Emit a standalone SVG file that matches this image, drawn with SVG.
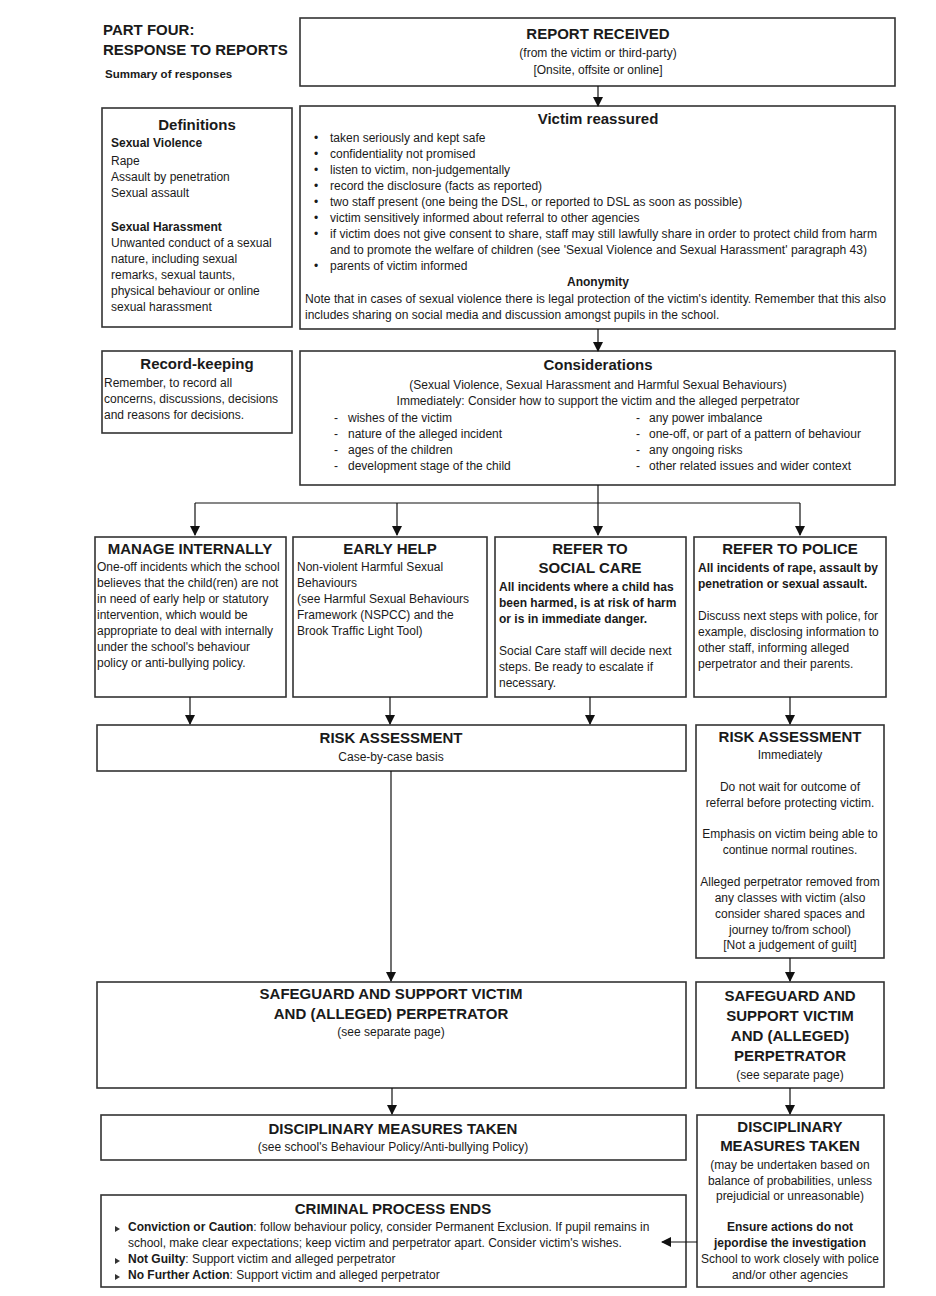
<svg xmlns="http://www.w3.org/2000/svg" width="936" height="1296" viewBox="0 0 936 1296">
<style>
text{font-family:"Liberation Sans",Arial,sans-serif;fill:#1a1a1a}
.box{fill:#fff;stroke:#333;stroke-width:1.6}
.t{font-weight:bold;font-size:15px;text-anchor:middle}
.h{font-weight:bold;font-size:15px}
.b{font-size:12px}
.s{font-size:12px}
.c{text-anchor:middle}
.bd{font-weight:bold}
.con{stroke:#111;stroke-width:1.2;fill:none}
</style>
<defs>
<marker id="ah" markerUnits="userSpaceOnUse" markerWidth="10" markerHeight="12" refX="9" refY="5" orient="auto">
<path d="M0,0 L10,5 L0,10 z" fill="#111"/>
</marker>
</defs>
<rect width="936" height="1296" fill="#fff"/>

<g id="header">
<text x="103" y="35" class="h">PART FOUR:</text>
<text x="103" y="55" class="h">RESPONSE TO REPORTS</text>
<text x="105" y="78" class="bd" style="font-size:11.5px">Summary of responses</text>
</g>

<g id="report">
<rect class="box" x="300" y="18" width="595" height="68"/>
<text x="598" y="39" class="t">REPORT RECEIVED</text>
<text x="598" y="57" class="b c">(from the victim or third-party)</text>
<text x="598" y="74" class="b c">[Onsite, offsite or online]</text>
</g>

<g id="definitions">
<rect class="box" x="102" y="108" width="190" height="219"/>
<text x="197" y="130" class="t">Definitions</text>
<text x="111" y="147" class="b bd">Sexual Violence</text>
<text x="111" y="165" class="b">Rape</text>
<text x="111" y="181" class="b">Assault by penetration</text>
<text x="111" y="197" class="b">Sexual assault</text>
<text x="111" y="231" class="b bd">Sexual Harassment</text>
<text x="111" y="247" class="b">Unwanted conduct of a sexual</text>
<text x="111" y="263" class="b">nature, including sexual</text>
<text x="111" y="279" class="b">remarks, sexual taunts,</text>
<text x="111" y="295" class="b">physical behaviour or online</text>
<text x="111" y="311" class="b">sexual harassment</text>
</g>

<g id="victim">
<rect class="box" x="300" y="106" width="595" height="223"/>
<text x="598" y="124" class="t">Victim reassured</text>
<g class="s">
<text x="314" y="142">•</text><text x="330" y="142">taken seriously and kept safe</text>
<text x="314" y="158">•</text><text x="330" y="158">confidentiality not promised</text>
<text x="314" y="174">•</text><text x="330" y="174">listen to victim, non-judgementally</text>
<text x="314" y="190">•</text><text x="330" y="190">record the disclosure (facts as reported)</text>
<text x="314" y="206">•</text><text x="330" y="206">two staff present (one being the DSL, or reported to DSL as soon as possible)</text>
<text x="314" y="222">•</text><text x="330" y="222">victim sensitively informed about referral to other agencies</text>
<text x="314" y="238">•</text><text x="330" y="238" textLength="547" lengthAdjust="spacingAndGlyphs">if victim does not give consent to share, staff may still lawfully share in order to protect child from harm</text>
<text x="330" y="254" textLength="537" lengthAdjust="spacingAndGlyphs">and to promote the welfare of children (see 'Sexual Violence and Sexual Harassment' paragraph 43)</text>
<text x="314" y="270">•</text><text x="330" y="270">parents of victim informed</text>
</g>
<text x="598" y="286" class="c bd" style="font-size:12px">Anonymity</text>
<text x="305" y="303" class="s" textLength="581" lengthAdjust="spacingAndGlyphs">Note that in cases of sexual violence there is legal protection of the victim's identity. Remember that this also</text>
<text x="305" y="319" class="s">includes sharing on social media and discussion amongst pupils in the school.</text>
</g>

<g id="recordkeeping">
<rect class="box" x="102" y="351" width="190" height="82"/>
<text x="197" y="369" class="t">Record-keeping</text>
<text x="104" y="387" class="b">Remember, to record all</text>
<text x="104" y="403" class="b">concerns, discussions, decisions</text>
<text x="104" y="419" class="b">and reasons for decisions.</text>
</g>

<g id="considerations">
<rect class="box" x="300" y="351" width="595" height="134"/>
<text x="598" y="370" class="t">Considerations</text>
<text x="598" y="389" class="b c">(Sexual Violence, Sexual Harassment and Harmful Sexual Behaviours)</text>
<text x="598" y="405" class="b c">Immediately: Consider how to support the victim and the alleged perpetrator</text>
<g class="s">
<text x="334" y="422">-</text><text x="348" y="422">wishes of the victim</text>
<text x="334" y="438">-</text><text x="348" y="438">nature of the alleged incident</text>
<text x="334" y="454">-</text><text x="348" y="454">ages of the children</text>
<text x="334" y="470">-</text><text x="348" y="470">development stage of the child</text>
<text x="636" y="422">-</text><text x="649" y="422">any power imbalance</text>
<text x="636" y="438">-</text><text x="649" y="438">one-off, or part of a pattern of behaviour</text>
<text x="636" y="454">-</text><text x="649" y="454">any ongoing risks</text>
<text x="636" y="470">-</text><text x="649" y="470">other related issues and wider context</text>
</g>
</g>

<g id="manage">
<rect class="box" x="95" y="537" width="191" height="160"/>
<text x="190" y="554" class="t">MANAGE INTERNALLY</text>
<g class="b">
<text x="97" y="571">One-off incidents which the school</text>
<text x="97" y="587">believes that the child(ren) are not</text>
<text x="97" y="603">in need of early help or statutory</text>
<text x="97" y="619">intervention, which would be</text>
<text x="97" y="635">appropriate to deal with internally</text>
<text x="97" y="651">under the school's behaviour</text>
<text x="97" y="667">policy or anti-bullying policy.</text>
</g>
</g>

<g id="earlyhelp">
<rect class="box" x="293" y="537" width="194" height="160"/>
<text x="390" y="554" class="t">EARLY HELP</text>
<g class="b">
<text x="297" y="571">Non-violent Harmful Sexual</text>
<text x="297" y="587">Behaviours</text>
<text x="297" y="603">(see Harmful Sexual Behaviours</text>
<text x="297" y="619">Framework (NSPCC) and the</text>
<text x="297" y="635">Brook Traffic Light Tool)</text>
</g>
</g>

<g id="socialcare">
<rect class="box" x="495" y="537" width="191" height="160"/>
<text x="590" y="554" class="t">REFER TO</text>
<text x="590" y="573" class="t">SOCIAL CARE</text>
<g class="b">
<text x="499" y="591" class="bd">All incidents where a child has</text>
<text x="499" y="607" class="bd">been harmed, is at risk of harm</text>
<text x="499" y="623" class="bd">or is in immediate danger.</text>
<text x="499" y="655">Social Care staff will decide next</text>
<text x="499" y="671">steps. Be ready to escalate if</text>
<text x="499" y="687">necessary.</text>
</g>
</g>

<g id="police">
<rect class="box" x="694" y="537" width="192" height="160"/>
<text x="790" y="554" class="t">REFER TO POLICE</text>
<g class="b">
<text x="698" y="572" class="bd">All incidents of rape, assault by</text>
<text x="698" y="588" class="bd">penetration or sexual assault.</text>
<text x="698" y="620">Discuss next steps with police, for</text>
<text x="698" y="636">example, disclosing information to</text>
<text x="698" y="652">other staff, informing alleged</text>
<text x="698" y="668">perpetrator and their parents.</text>
</g>
</g>

<g id="risk-left">
<rect class="box" x="97" y="725" width="589" height="46"/>
<text x="391" y="743" class="t">RISK ASSESSMENT</text>
<text x="391" y="761" class="b c">Case-by-case basis</text>
</g>

<g id="risk-right">
<rect class="box" x="696" y="725" width="188" height="233"/>
<text x="790" y="742" class="t">RISK ASSESSMENT</text>
<g class="b c">
<text x="790" y="759">Immediately</text>
<text x="790" y="791">Do not wait for outcome of</text>
<text x="790" y="807">referral before protecting victim.</text>
<text x="790" y="838">Emphasis on victim being able to</text>
<text x="790" y="854">continue normal routines.</text>
<text x="790" y="886">Alleged perpetrator removed from</text>
<text x="790" y="902">any classes with victim (also</text>
<text x="790" y="918">consider shared spaces and</text>
<text x="790" y="934">journey to/from school)</text>
<text x="790" y="949">[Not a judgement of guilt]</text>
</g>
</g>

<g id="safeguard-left">
<rect class="box" x="97" y="982" width="589" height="106"/>
<text x="391" y="999" class="t">SAFEGUARD AND SUPPORT VICTIM</text>
<text x="391" y="1019" class="t">AND (ALLEGED) PERPETRATOR</text>
<text x="391" y="1036" class="b c">(see separate page)</text>
</g>

<g id="safeguard-right">
<rect class="box" x="696" y="982" width="188" height="106"/>
<text x="790" y="1001" class="t">SAFEGUARD AND</text>
<text x="790" y="1021" class="t">SUPPORT VICTIM</text>
<text x="790" y="1041" class="t">AND (ALLEGED)</text>
<text x="790" y="1061" class="t">PERPETRATOR</text>
<text x="790" y="1079" class="b c">(see separate page)</text>
</g>

<g id="disciplinary-left">
<rect class="box" x="101" y="1115" width="585" height="45"/>
<text x="393" y="1134" class="t">DISCIPLINARY MEASURES TAKEN</text>
<text x="393" y="1151" class="b c">(see school's Behaviour Policy/Anti-bullying Policy)</text>
</g>

<g id="disciplinary-right">
<rect class="box" x="697" y="1115" width="187" height="172"/>
<text x="790" y="1132" class="t">DISCIPLINARY</text>
<text x="790" y="1151" class="t">MEASURES TAKEN</text>
<g class="b c">
<text x="790" y="1169">(may be undertaken based on</text>
<text x="790" y="1185">balance of probabilities, unless</text>
<text x="790" y="1200">prejudicial or unreasonable)</text>
<text x="790" y="1231" class="bd">Ensure actions do not</text>
<text x="790" y="1247" class="bd">jepordise the investigation</text>
<text x="790" y="1263">School to work closely with police</text>
<text x="790" y="1279">and/or other agencies</text>
</g>
</g>

<g id="criminal">
<rect class="box" x="101" y="1195" width="585" height="92"/>
<text x="393" y="1214" class="t">CRIMINAL PROCESS ENDS</text>
<g class="b">
<path d="M115,1226 L120,1229 L115,1232 z" fill="#333"/>
<text x="128" y="1231"><tspan class="bd">Conviction or Caution</tspan>: follow behaviour policy, consider Permanent Exclusion. If pupil remains in</text>
<text x="128" y="1247">school, make clear expectations; keep victim and perpetrator apart. Consider victim's wishes.</text>
<path d="M115,1258 L120,1261 L115,1264 z" fill="#333"/>
<text x="128" y="1263"><tspan class="bd">Not Guilty</tspan>: Support victim and alleged perpetrator</text>
<path d="M115,1274 L120,1277 L115,1280 z" fill="#333"/>
<text x="128" y="1279"><tspan class="bd">No Further Action</tspan>: Support victim and alleged perpetrator</text>
</g>
</g>

<g id="connectors" class="con">
<line x1="598" y1="86" x2="598" y2="106" marker-end="url(#ah)"/>
<line x1="598" y1="329" x2="598" y2="351" marker-end="url(#ah)"/>
<polyline points="598,485 598,503"/>
<line x1="195" y1="503" x2="800" y2="503"/>
<line x1="195" y1="503" x2="195" y2="535" marker-end="url(#ah)"/>
<line x1="397" y1="503" x2="397" y2="535" marker-end="url(#ah)"/>
<line x1="598" y1="503" x2="598" y2="535" marker-end="url(#ah)"/>
<line x1="800" y1="503" x2="800" y2="535" marker-end="url(#ah)"/>
<line x1="190" y1="697" x2="190" y2="724" marker-end="url(#ah)"/>
<line x1="390" y1="697" x2="390" y2="724" marker-end="url(#ah)"/>
<line x1="590" y1="697" x2="590" y2="724" marker-end="url(#ah)"/>
<line x1="790" y1="697" x2="790" y2="724" marker-end="url(#ah)"/>
<line x1="391" y1="771" x2="391" y2="981" marker-end="url(#ah)"/>
<line x1="790" y1="958" x2="790" y2="981" marker-end="url(#ah)"/>
<line x1="392" y1="1088" x2="392" y2="1114" marker-end="url(#ah)"/>
<line x1="790" y1="1088" x2="790" y2="1114" marker-end="url(#ah)"/>
<line x1="697" y1="1242" x2="662" y2="1242" marker-end="url(#ah)"/>
</g>
</svg>
